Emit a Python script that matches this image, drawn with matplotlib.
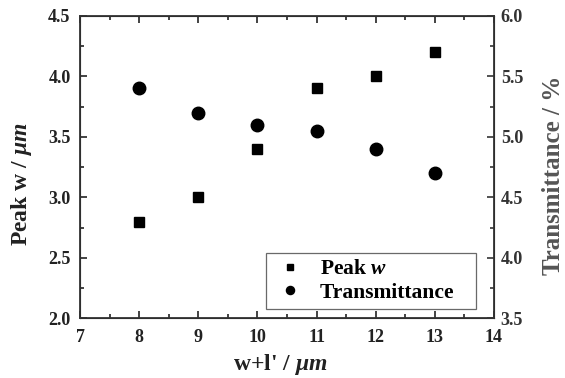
import matplotlib.pyplot as plt
from matplotlib.ticker import MultipleLocator

# === data ===
width_sum = [8, 9, 10, 11, 12, 13]
peak_w = [2.8, 3.0, 3.4, 3.9, 4.0, 4.2]
transmittance = [5.4, 5.2, 5.1, 5.05, 4.9, 4.7]

plt.rcParams['font.family'] = ['Liberation Serif', 'DejaVu Serif']
plt.rcParams['font.weight'] = 'bold'
plt.rcParams['axes.labelweight'] = 'bold'
plt.rcParams['mathtext.fontset'] = 'custom'
plt.rcParams['mathtext.it'] = 'Liberation Serif:italic:bold'
plt.rcParams['mathtext.rm'] = 'Liberation Serif:bold'

fig, ax = plt.subplots(figsize=(5.65, 3.78), dpi=100)
fig.subplots_adjust(left=0.142, right=0.874, top=0.958, bottom=0.158)
ax2 = ax.twinx()

l1, = ax.plot(width_sum, peak_w, 's', color='black', markersize=7, linestyle='none', label='Peak $w$')
l2, = ax2.plot(width_sum, transmittance, 'o', color='black', markersize=9, linestyle='none',
               label='Transmittance   ')

ax.set_xlim(7, 14)
ax.set_ylim(2.0, 4.5)
ax2.set_ylim(3.5, 6.0)

ax.xaxis.set_major_locator(MultipleLocator(1))
ax.xaxis.set_minor_locator(MultipleLocator(0.5))
ax.yaxis.set_major_locator(MultipleLocator(0.5))
ax.yaxis.set_minor_locator(MultipleLocator(0.25))
ax2.yaxis.set_major_locator(MultipleLocator(0.5))
ax2.yaxis.set_minor_locator(MultipleLocator(0.25))
ax.yaxis.set_major_formatter('{x:.1f}')
ax2.yaxis.set_major_formatter('{x:.1f}')

ax.tick_params(which='both', direction='in', top=True, right=False, labelsize=13, colors='#222222', width=1.2)
ax.tick_params(which='major', length=5)
ax.tick_params(which='minor', length=3)
ax2.tick_params(which='both', direction='in', labelsize=13, colors='#333333', width=1.2)
ax2.tick_params(which='major', length=5, pad=5)
ax2.tick_params(which='minor', length=3)
ax.tick_params(axis='x', pad=8)
ax.tick_params(axis='y', pad=7)

for sp in ax2.spines.values():
    sp.set_linewidth(1.3)
    sp.set_color('#333333')

ax.set_xlabel("w+l' / $\\mu m$", fontsize=17, color='#222222')
ax.set_ylabel('Peak w / $\\mu m$', fontsize=17, color='#222222')
ax2.set_ylabel('Transmittance / %', fontsize=18, color='#555555')
ax.xaxis.set_label_coords(0.483, -0.113)
ax.yaxis.set_label_coords(-0.111, 0.444)
ax2.yaxis.set_label_coords(1.116, 0.473)

leg = ax.legend(handles=[l1, l2], loc='lower right', bbox_to_anchor=(0.957, 0.03),
                borderaxespad=0, fontsize=15.5, frameon=True, fancybox=False,
                edgecolor='#444444', markerscale=0.65, handletextpad=0.6,
                handlelength=1.6, borderpad=0.3, labelspacing=0.15)
leg.get_frame().set_linewidth(0.9)

plt.savefig('out.png')
